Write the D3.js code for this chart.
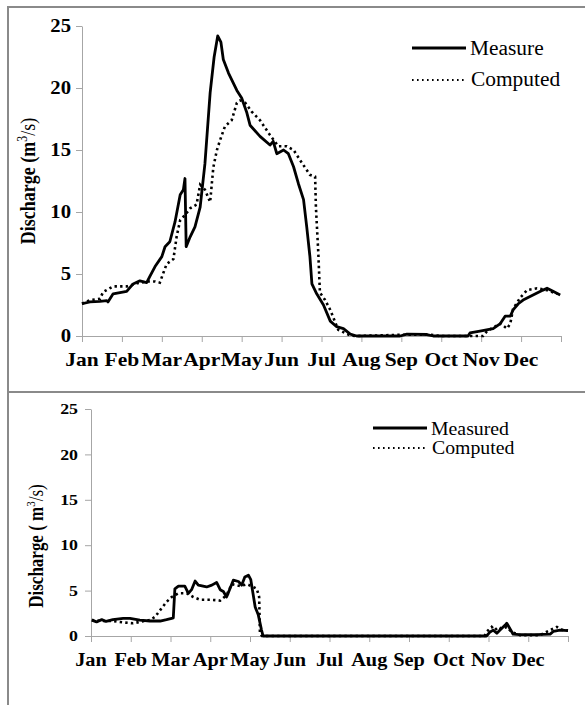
<!DOCTYPE html>
<html>
<head>
<meta charset="utf-8">
<script src="https://cdn.jsdelivr.net/npm/d3@7"></script>
<style>
body{margin:0;background:#fff;}
svg text{font-family:"Liberation Serif","Times New Roman",serif;fill:#000;}
.axis path,.axis line{stroke:#a6a6a6;}
</style>
</head>
<body>
<script>
var width=585,height=705;
var months=["Jan","Feb","Mar","Apr","May","Jun","Jul","Aug","Sep","Oct","Nov","Dec"];
var yTicks=[0,5,10,15,20,25];

// top panel, [month position, discharge m3/s]
var topMeasured=[[0,2.6],[0.2,2.75],[0.45,2.8],[0.62,2.85],[0.65,2.75],[0.78,3.4],[0.95,3.5],[1.12,3.6],
  [1.28,4.2],[1.45,4.45],[1.62,4.3],[1.7,4.8],[1.83,5.6],[2.0,6.4],[2.08,7.2],[2.2,7.6],[2.33,9.2],
  [2.46,11.4],[2.54,11.8],[2.58,12.7],[2.61,7.2],[2.71,8.0],[2.83,8.8],[2.96,10.4],[3.08,13.9],
  [3.21,19.6],[3.31,22.5],[3.4,24.2],[3.48,23.7],[3.54,22.3],[3.67,21.2],[3.88,19.8],[4.0,19.2],
  [4.13,18.0],[4.21,17.0],[4.46,16.1],[4.71,15.4],[4.79,15.7],[4.88,14.7],[5.05,15.0],[5.17,14.7],
  [5.3,13.65],[5.42,12.3],[5.55,11.0],[5.63,8.8],[5.71,6.4],[5.76,4.2],[5.88,3.4],[6.05,2.5],
  [6.22,1.2],[6.38,0.75],[6.55,0.6],[6.72,0.15],[6.88,0],[7.47,0],[7.97,0],[8.14,0.15],[8.64,0.12],
  [8.8,0],[9.67,0],[9.72,0.25],[9.97,0.4],[10.3,0.6],[10.48,1.0],[10.6,1.6],[10.73,1.6],[10.8,2.1],
  [10.93,2.6],[11.05,2.9],[11.3,3.3],[11.55,3.7],[11.65,3.85],[11.8,3.6],[11.98,3.3]];
var topComputed=[[0,2.6],[0.2,2.9],[0.45,3.0],[0.53,3.55],[0.78,4.0],[1.13,4.0],[1.38,4.25],[1.65,4.4],
  [1.83,4.4],[1.95,4.3],[2.04,5.1],[2.12,5.8],[2.29,6.2],[2.37,8.0],[2.46,9.35],[2.58,9.75],[2.71,10.3],
  [2.87,10.6],[2.96,12.2],[3.08,11.8],[3.21,10.8],[3.29,13.6],[3.38,15.0],[3.46,15.8],[3.58,16.9],
  [3.75,17.4],[3.88,18.8],[3.96,19.0],[4.09,18.8],[4.25,18.1],[4.46,17.4],[4.71,16.2],[4.92,15.3],
  [5.13,15.3],[5.3,15.0],[5.46,14.2],[5.71,13.0],[5.84,12.85],[5.86,10.4],[5.92,6.7],[5.96,3.5],
  [6.09,2.9],[6.22,2.1],[6.42,0.5],[6.72,0.05],[6.87,0],[8.05,0.1],[8.72,0.1],[8.97,0],[10.05,0],
  [10.15,0.4],[10.48,1.0],[10.65,0.6],[10.73,1.0],[10.8,2.2],[10.98,3.1],[11.15,3.7],[11.4,3.85],
  [11.65,3.7],[11.9,3.4]];

// bottom panel
var botMeasured=[[0.02,1.75],[0.14,1.55],[0.27,1.8],[0.38,1.6],[0.55,1.8],[0.81,1.95],[0.98,1.95],
  [1.23,1.75],[1.48,1.65],[1.74,1.65],[1.9,1.8],[2.03,1.95],[2.07,2.0],[2.11,5.2],[2.2,5.5],[2.36,5.5],
  [2.45,4.7],[2.53,5.1],[2.62,6.05],[2.7,5.6],[2.91,5.4],[3.04,5.6],[3.16,5.9],[3.25,5.1],[3.33,4.9],
  [3.41,4.3],[3.45,4.7],[3.58,6.15],[3.71,6.0],[3.79,5.6],[3.87,6.5],[3.96,6.7],[4.02,6.2],[4.13,3.2],
  [4.21,2.3],[4.29,0.65],[4.33,0],[9.95,0],[10.04,0.45],[10.12,0.65],[10.21,0.3],[10.29,0.65],
  [10.42,1.2],[10.46,1.4],[10.54,0.8],[10.62,0.2],[10.79,0.15],[11.21,0.15],[11.55,0.2],[11.63,0.5],
  [11.8,0.65],[12.0,0.6]];
var botComputed=[[0.02,1.75],[0.31,1.65],[0.55,1.65],[0.8,1.5],[1.06,1.4],[1.28,1.6],[1.48,1.75],
  [1.61,2.1],[1.74,2.85],[1.9,3.75],[2.03,4.3],[2.2,4.7],[2.41,4.7],[2.57,4.3],[2.74,4.0],[2.99,4.0],
  [3.25,3.9],[3.41,4.5],[3.54,5.7],[3.75,5.5],[3.92,5.7],[4.04,5.5],[4.17,5.2],[4.23,4.3],[4.25,0.3],
  [4.3,0],[9.9,0],[9.95,0.45],[10.08,1.0],[10.16,0.65],[10.25,1.0],[10.33,0.8],[10.46,1.0],[10.58,0.45],
  [10.79,0.1],[11.3,0.1],[11.55,0.65],[11.72,1.0],[11.84,0.7],[12.0,0.6]];

var svg=d3.select("body").append("svg").attr("width",width).attr("height",height);

// cell borders
svg.append("path").attr("d","M8,705V7H585M8,392H585")
   .attr("fill","none").attr("stroke","#8a8a8a").attr("stroke-width",2);

// text that is a bit wider than the font, like the picture
function wtext(g,x,y,str,size,bold,anchor,sx){
  return g.append("text")
    .attr("transform","translate("+x+","+y+") scale("+sx+",1)")
    .attr("text-anchor",anchor)
    .style("font-size",size+"px").style("font-weight",bold?"bold":"normal")
    .text(str);
}

function panel(o){
  var x=d3.scaleLinear().domain([0,12]).range([o.x0,o.x1]);
  var y=d3.scaleLinear().domain([0,25]).range([o.y0,o.y1]);
  var g=svg.append("g");

  g.append("g").attr("class","axis")
     .attr("transform","translate("+o.x0+",0)")
     .call(d3.axisLeft(y).tickValues(yTicks).tickSize(6).tickFormat("").tickSizeOuter(0));
  yTicks.forEach(function(v){
    wtext(g,o.x0-o.ypad,y(v)+o.yfs*0.34,v,o.yfs,true,"end",1.15);
  });

  g.append("g").attr("class","axis")
     .attr("transform","translate(0,"+o.y0+")")
     .call(d3.axisBottom(x).tickValues(d3.range(13)).tickSize(6).tickFormat("").tickSizeOuter(0));
  months.forEach(function(m,i){
    wtext(g,x(i),o.y0+30,m,o.xfs,true,"middle",1.13);
  });

  var t=g.append("text")
   .attr("transform","translate("+o.tx+","+o.ty+") rotate(-90) scale(1,1.2)")
   .attr("text-anchor","middle")
   .style("font-size",o.tfs+"px").style("font-weight","bold");
  t.append("tspan").text(o.title);
  t.append("tspan").attr("baseline-shift","super").style("font-size",(o.tfs*0.65)+"px").style("font-weight","normal").text("3");
  t.append("tspan").style("font-weight","normal").text("/s)");

  var line=d3.line().x(function(d){return x(d[0]);}).y(function(d){return y(d[1]);});
  g.append("path").datum(o.computed).attr("d",line)
   .attr("fill","none").attr("stroke","#000").attr("stroke-width",2.6)
   .attr("stroke-dasharray","2.4,3.2");
  g.append("path").datum(o.measured).attr("d",line)
   .attr("fill","none").attr("stroke","#000").attr("stroke-width",2.8)
   .attr("stroke-linejoin","round");

  // legend
  var lg=g.append("g");
  lg.append("line").attr("x1",o.lx).attr("x2",o.lx+54).attr("y1",o.ly1-7).attr("y2",o.ly1-7)
    .attr("stroke","#000").attr("stroke-width",2.8);
  lg.append("line").attr("x1",o.lx).attr("x2",o.lx+52).attr("y1",o.ly2-6).attr("y2",o.ly2-6)
    .attr("stroke","#000").attr("stroke-width",2).attr("stroke-dasharray","1.6,3.4");
  wtext(lg,o.lx+58,o.ly1,o.lab1,o.lfs,false,"start",1.07);
  wtext(lg,o.lx+59,o.ly2,"Computed",o.lfs,false,"start",1.07);
}

panel({x0:82,x1:561,y0:336,y1:26,ypad:11,yfs:18,xfs:19,tfs:18,lfs:20,
  tx:35,ty:181,title:"Discharge (m",
  measured:topMeasured,computed:topComputed,
  lx:412,ly1:55,ly2:86,lab1:"Measure"});

panel({x0:91,x1:568,y0:636,y1:409,ypad:13,yfs:15.5,xfs:18,tfs:17,lfs:18.5,
  tx:43,ty:546,title:"Discharge ( m",
  measured:botMeasured,computed:botComputed,
  lx:373,ly1:435,ly2:454,lab1:"Measured"});
</script>
</body>
</html>
